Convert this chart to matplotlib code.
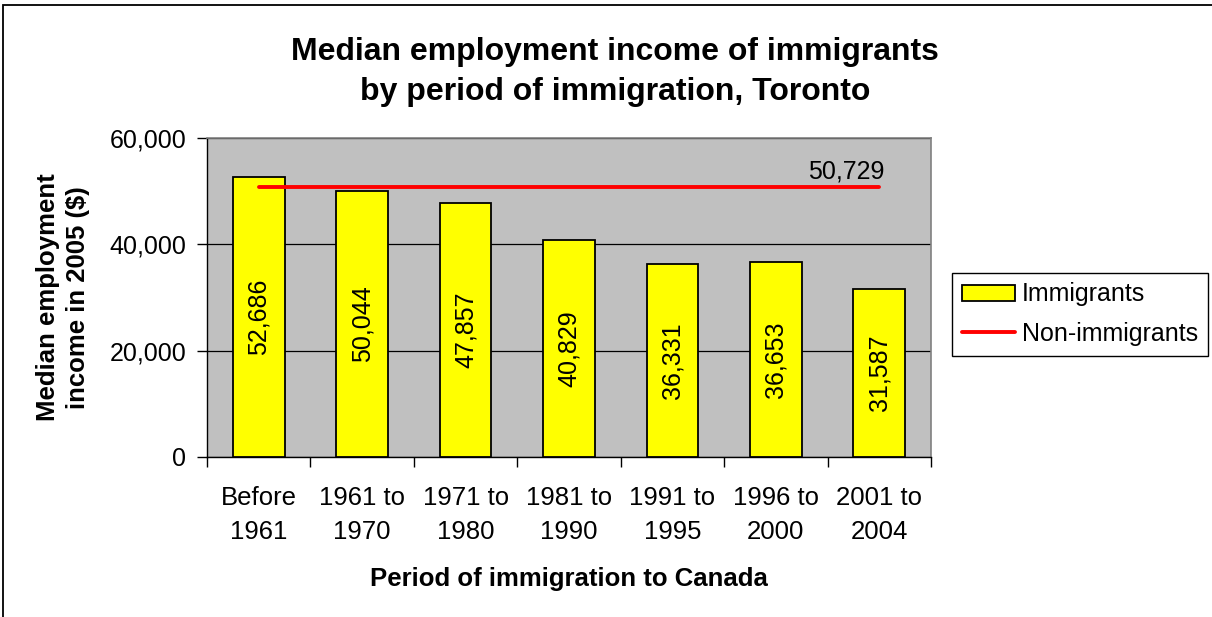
import matplotlib
matplotlib.use("Agg")
import matplotlib.pyplot as plt
from matplotlib.patches import Rectangle
from matplotlib.ticker import FuncFormatter, FixedLocator, NullFormatter

plt.rcParams['font.family'] = ['Liberation Sans', 'DejaVu Sans']

# data
periods = ["Before\n1961", "1961 to\n1970", "1971 to\n1980", "1981 to\n1990",
           "1991 to\n1995", "1996 to\n2000", "2001 to\n2004"]
immigrants = [52686, 50044, 47857, 40829, 36331, 36653, 31587]
non_immigrants = 50729

W, H = 1212, 617
fig = plt.figure(figsize=(W / 100, H / 100), dpi=100)
ax = fig.add_axes([207 / W, 1 - 457 / H, (931 - 207) / W, (457 - 138) / H])

x = list(range(len(periods)))
ax.set_facecolor("#C0C0C0")
bars = ax.bar(x, immigrants, width=0.5, color="#FFFF00", edgecolor="black",
              linewidth=1.3, zorder=3, label="Immigrants")
line, = ax.plot(x, [non_immigrants] * len(x), color="#FF0000", lw=2.8, zorder=4,
                solid_capstyle="round", label="Non-immigrants")

for xi, v in zip(x, immigrants):
    ax.text(xi, v / 2, f"{v:,}", rotation=90, ha="center", va="center",
            fontsize=18, zorder=5)
ax.annotate(f"{non_immigrants:,}", (x[-1], non_immigrants), xytext=(4, 3),
            textcoords="offset points", ha="right", va="bottom", fontsize=18)

ax.set_xlim(-0.5, len(x) - 0.5)
ax.set_ylim(0, 60000)
ax.set_yticks([0, 20000, 40000, 60000])
ax.yaxis.set_major_formatter(FuncFormatter(lambda v, p: f"{int(v):,}"))
ax.yaxis.grid(True, color="black", lw=0.9, zorder=1)
ax.set_axisbelow(True)

# category labels centred, ticks at the boundaries
ax.xaxis.set_major_locator(FixedLocator([i - 0.5 for i in range(len(x) + 1)]))
ax.xaxis.set_major_formatter(NullFormatter())
ax.xaxis.set_minor_locator(FixedLocator(x))
ax.set_xticklabels(periods, minor=True, linespacing=1.5)
ax.tick_params(axis="x", which="minor", length=0, pad=21, labelsize=18.5)
ax.tick_params(axis="x", which="major", length=7, width=1, direction="out")
ax.tick_params(axis="y", length=7, width=1, direction="out", pad=8, labelsize=18)

for side in ["top", "right"]:
    ax.spines[side].set_color("#808080")
    ax.spines[side].set_linewidth(1.2)
for side in ["left", "bottom"]:
    ax.spines[side].set_color("black")
    ax.spines[side].set_linewidth(1)

ax.set_xlabel("Period of immigration to Canada", fontsize=18.5, fontweight="bold",
              labelpad=17)
ax.set_ylabel("Median employment\nincome in 2005 ($)", fontsize=18.5,
              fontweight="bold", labelpad=14, linespacing=1.3)

fig.text(615 / W, 1 - 72 / H, "Median employment income of immigrants\nby period of immigration, Toronto",
         ha="center", va="center", fontsize=23, fontweight="bold", linespacing=1.45)

leg = fig.legend([bars, line], ["Immigrants", "Non-immigrants"],
                 loc="center left", bbox_to_anchor=(952 / W, 1 - 314 / H),
                 borderaxespad=0, fontsize=18, frameon=True, fancybox=False,
                 edgecolor="black", framealpha=1, handlelength=2.1,
                 handleheight=0.6, handletextpad=0.3, labelspacing=0.6,
                 borderpad=0.4)
leg.get_frame().set_linewidth(1)

# outer chart frame (cut off at right and bottom)
fig.add_artist(Rectangle((3 / W, -0.1), 1.2, 1.1 - 5 / H, transform=fig.transFigure,
                         fill=False, edgecolor="black", lw=1.3))

fig.savefig("out.png", dpi=100)
